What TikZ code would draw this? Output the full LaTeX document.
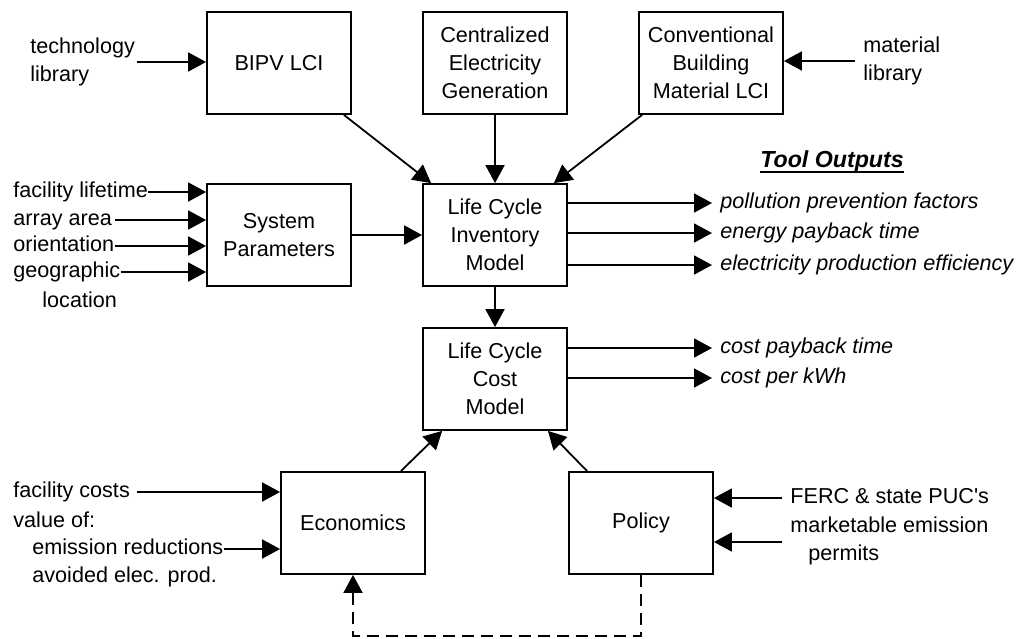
\documentclass[tikz,border=0pt]{standalone}
\usepackage{fontspec}
\setmainfont{Liberation Sans}
\newfontfamily\plainfont{Liberation Sans}
\usetikzlibrary{arrows.meta,calc}
\newcommand\thickul[1]{\setbox0\hbox{#1}\rlap{\rule[-2.8pt]{\wd0}{1.1pt}}\box0}
\tikzset{
  box/.style={draw, line width=0.9pt, minimum width=72pt, minimum height=51pt, inner sep=2pt, align=center, fill=white},
  lbl/.style={inner sep=0pt, anchor=west, text height=7.8pt, text depth=2.2pt},
  mlbl/.style={inner sep=0pt, anchor=west, align=left},
  olbl/.style={inner sep=0pt, anchor=west, text height=7.8pt, text depth=2.2pt, font=\fontsize{10.8}{14}\selectfont\itshape},
  arr/.style={line width=0.9pt, -{Triangle[length=9pt,width=9.5pt]}},
  dsh/.style={line width=0.9pt, dash pattern=on 6pt off 3.5pt, -{Triangle[length=9pt,width=9.5pt]}}
}
\begin{document}
\begin{tikzpicture}[x=0.5pt, y=-0.5pt, font=\fontsize{10.8}{14}\selectfont]
\fill[white] (0,0) rectangle (1021,638);
\useasboundingbox (0,0) rectangle (1021,638);

% boxes
\node[box] (bipv)    at (279,63)  {BIPV LCI};
\node[box] (central) at (495,63)  {Centralized\\Electricity\\Generation};
\node[box] (conv)    at (711,63)  {Conventional\\Building\\Material LCI};
\node[box] (sys)     at (279,235) {System\\Parameters};
\node[box] (lci)     at (495,235) {Life Cycle\\Inventory\\Model};
\node[box] (lcc)     at (495,379) {Life Cycle\\Cost\\Model};
\node[box] (econ)    at (353,523) {Economics};
\node[box] (policy)  at (641,523) {Policy};

% top inputs
\node[mlbl] (techlib) at (30,62) {technology\\library};
\draw[arr] ($(techlib.east)+(2,0)$) -- (techlib.east -| bipv.west);
\node[mlbl] (matlib) at (863,61) {material\\library};
\draw[arr] ($(matlib.west)+(-8,0)$) -- (matlib.west -| conv.east);

% system parameter inputs
\node[lbl] (fl)  at (13,192) {facility lifetime};
\node[lbl] (aa)  at (13,220) {array area};
\node[lbl] (ori) at (13,246) {orientation};
\node[lbl] (geo) at (13,272) {geographic};
\node[lbl] (loc) at (42,302) {location};
\draw[arr] (fl.east) -- (fl.east -| sys.west);
\draw[arr] ($(aa.east)+(3,0)$) -- (aa.east -| sys.west);
\draw[arr] (ori.east) -- (ori.east -| sys.west);
\draw[arr] (geo.east) -- (geo.east -| sys.west);

% economics inputs
\node[lbl] (fc) at (13,492) {facility costs};
\node[lbl] (vo) at (13,522) {value of:};
\node[lbl] (er) at (32,549) {emission reductions};
\node[lbl] (ae) at (32,577) {avoided elec. prod.};
\draw[arr] ($(fc.east)+(7,0)$) -- (fc.east -| econ.west);
\draw[arr] (er.east) -- (er.east -| econ.west);

% policy inputs
\node[lbl] (ferc) at (790,498) {\plainfont FERC \& state PUC's};
\node[lbl] (mkt)  at (790,527) {marketable emission};
\node[lbl] (perm) at (808,555) {permits};
\coordinate (mktin) at (782,542);
\draw[arr] ($(ferc.west)+(-8,0)$) -- (ferc.west -| policy.east);
\draw[arr] (mktin) -- (mktin -| policy.east);

% internal connectors
\draw[arr] ($(bipv.south east)+(-8,0)$) -- ($(lci.north west)+(9,0)$);
\draw[arr] (central.south) -- (lci.north);
\draw[arr] ($(conv.south west)+(4,0)$) -- ($(lci.north east)+(-14,0)$);
\draw[arr] (sys.east) -- (lci.west);
\draw[arr] (lci.south) -- (lcc.north);
\draw[arr] ($(econ.north east)+(-25,0)$) -- ($(lcc.south west)+(20,0)$);
\draw[arr] ($(policy.north west)+(19,0)$) -- ($(lcc.south east)+(-20,0)$);

% dashed feedback
\coordinate (dbot) at (353,636);
\draw[dsh] (policy.south) |- (dbot) -- (econ.south);

% tool outputs
\node[inner sep=0pt] (tooltitle) at (832,162) {\fontsize{11.6}{14}\selectfont\bfseries\itshape\thickul{Tool Outputs}};
\node[olbl] (o1) at (720,203) {pollution prevention factors};
\node[olbl] (o2) at (720,233) {energy payback time};
\node[olbl] (o3) at (720,265) {electricity production efficiency};
\node[olbl] (c1) at (720,348) {cost payback time};
\node[olbl] (c2) at (720,378) {cost per kWh};
\draw[arr, shorten >=4pt] (o1.west -| lci.east) -- (o1.west);
\draw[arr, shorten >=4pt] (o2.west -| lci.east) -- (o2.west);
\draw[arr, shorten >=4pt] (o3.west -| lci.east) -- (o3.west);
\draw[arr, shorten >=4pt] (c1.west -| lcc.east) -- (c1.west);
\draw[arr, shorten >=4pt] (c2.west -| lcc.east) -- (c2.west);
\end{tikzpicture}
\end{document}
